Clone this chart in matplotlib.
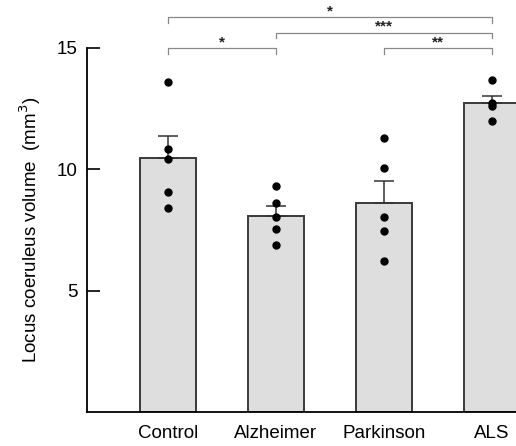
import numpy as np
import matplotlib.pyplot as plt

plt.rcParams['font.family'] = ['Liberation Sans', 'DejaVu Sans']

# data
groups = ['Control', 'Alzheimer', 'Parkinson', 'ALS']
points = [
    [13.6, 10.84, 10.41, 9.06, 8.41],
    [9.31, 8.6, 8.05, 7.55, 6.87],
    [11.28, 10.07, 8.02, 7.44, 6.22],
    [13.67, 12.72, 12.61, 11.99],
]
means = [10.45, 8.09, 8.6, 12.74]
sem = [0.91, 0.41, 0.92, 0.28]

# significance brackets: (left group, right group, height, label)
brackets = [(0, 3, 16.26, '*'), (1, 3, 15.63, '***'), (0, 1, 14.98, '*'), (2, 3, 14.98, '**')]

fig = plt.figure(figsize=(5.16, 4.46), dpi=100)
ax = fig.add_axes([0.1686, 0.0762, 0.8314, 0.8162])

x = np.arange(len(groups))
ax.bar(x, means, width=0.51, color='#dedede', edgecolor='#3a3a3a', linewidth=1.4, zorder=2)
ax.errorbar(x, means, yerr=[np.zeros(len(sem)), sem], fmt='none', ecolor='#333333',
            elinewidth=1.1, capsize=7, capthick=1.1, zorder=3)
for i, vals in enumerate(points):
    ax.plot([x[i]] * len(vals), vals, 'o', color='black', markersize=5, zorder=4, clip_on=False)

for a, b, h, lab in brackets:
    ax.plot([x[a], x[a], x[b], x[b]], [h - 0.22, h, h, h - 0.22], color='#888888', lw=0.9, clip_on=False)
    ax.text((x[a] + x[b]) / 2, h - 0.05, lab, ha='center', va='bottom', fontsize=11,
            fontweight='bold', color='#222222', clip_on=False)

ax.set_xlim(-0.75, 3.222)
ax.set_ylim(0, 15)
ax.set_yticks([5, 10, 15])
ax.tick_params(axis='y', direction='in', length=9, width=1.2, labelsize=13.5, pad=7)
ax.set_xticks(x)
ax.set_xticklabels(groups, fontsize=13.5)
ax.tick_params(axis='x', length=0, pad=9)
ax.spines['top'].set_visible(False)
ax.spines['right'].set_visible(False)
ax.spines['left'].set_linewidth(1.3)
ax.spines['bottom'].set_linewidth(1.3)
ax.set_ylabel('Locus coeruleus volume  (mm$^3$)', fontsize=13.5, labelpad=10)

fig.savefig('out.png', dpi=100)
